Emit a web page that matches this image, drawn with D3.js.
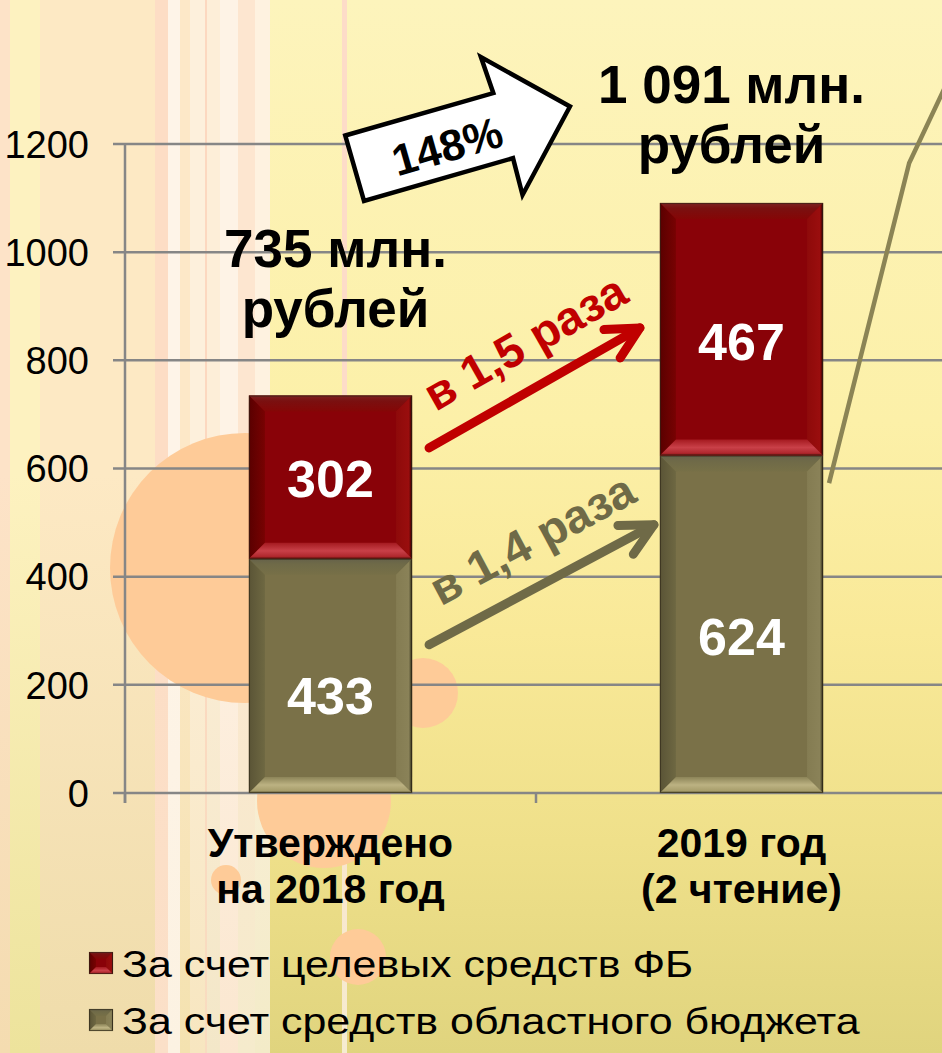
<!DOCTYPE html>
<html>
<head>
<meta charset="utf-8">
<script src="https://cdn.jsdelivr.net/npm/d3@7"></script>
<style>
html, body { margin: 0; padding: 0; overflow: hidden; background: #fdf3b8; }
text { font-family: "Liberation Sans", Arial, sans-serif; }
</style>
</head>
<body>
<svg id="chart" width="942" height="1053"></svg>
<script>
// chart values
var categories = [["Утверждено", "на 2018 год"], ["2019 год", "(2 чтение)"]];
var regionalBudget = [433, 624];   // olive, bottom of the stack
var federalTarget = [302, 467];    // dark red, top of the stack
var seriesNames = ["За счет целевых средств ФБ", "За счет средств областного бюджета"];
var yTicks = [0, 200, 400, 600, 800, 1000, 1200];
// decorative line entering from the right edge: [band position, value]
var sideLine = [[1.713, 573], [1.908, 1165], [1.995, 1305]];

var W = 942, H = 1053;
var svg = d3.select("#chart");
var defs = svg.append("defs");
var ru = d3.formatLocale({decimal: ",", thousands: " ", grouping: [3], currency: ["", ""]});
var fmtInt = ru.format(",d");
var fmtRatio = ru.format(".1f");

var x = d3.scaleBand().domain([0, 1]).range([125, 947]).paddingInner(0.603).paddingOuter(0.3015);
var xPos = d3.scaleLinear().domain([0, 2]).range([125, 947]);
var y = d3.scaleLinear().domain([0, 1200]).range([793, 144]);

function addGrad(id, stops, vertical) {
	var g = defs.append("linearGradient").attr("id", id)
		.attr("x1", 0).attr("y1", 0).attr("x2", vertical ? 0 : 1).attr("y2", vertical ? 1 : 0);
	stops.forEach(function(s) { g.append("stop").attr("offset", s[0]).attr("stop-color", s[1]); });
}

// ---- background ----
addGrad("bg", [[0, "#fdf4bc"], [0.4, "#fcf0a8"], [0.6, "#f9e998"], [0.8, "#efe08a"], [1, "#e0d47e"]], true);
svg.append("rect").attr("width", W).attr("height", H).attr("fill", "url(#bg)");

var stripes = [
	[0, 10, "#fde3c8", "#f4dcb0"], [10, 40, "#fdf2c0", "#ede39c"], [40, 155, "#fde9c4", "#efdcaa"],
	[155, 168, "#fdddc5", "#fbe0c8"], [168, 180, "#fef4e8", "#fcf2e2"], [180, 190, "#fde8c8", "#f4e2b0"],
	[190, 205, "#fdf0dc", "#f7e6c0"], [205, 207, "#fcd8c0", "#f8dcc0"], [207, 220, "#fdeed8", "#f3e7c8"],
	[220, 238, "#fef3e6", "#fbe7d0"], [238, 255, "#fde6d0", "#f5ebcc"], [255, 270, "#fef2e0", "#f3ebc8"],
	[342, 347, "#fddcc8", "#f6ecd0"]
];
stripes.forEach(function(s, i) {
	addGrad("st" + i, [[0, s[2]], [0.45, s[2]], [1, s[3]]], true);
	svg.append("rect").attr("x", s[0]).attr("y", 0).attr("width", s[1] - s[0]).attr("height", H)
		.attr("fill", "url(#st" + i + ")");
});

var blobs = [[245, 568, 135], [423, 693, 35], [324, 801, 67], [226, 880, 15], [358, 957, 28]];
svg.selectAll("circle.blob").data(blobs).enter().append("circle").attr("class", "blob")
	.attr("cx", function(d) { return d[0]; }).attr("cy", function(d) { return d[1]; })
	.attr("r", function(d) { return d[2]; }).attr("fill", "#fecb98");

// ---- grid and axes ----
svg.selectAll("line.grid").data(yTicks).enter().append("line").attr("class", "grid")
	.attr("x1", 113).attr("x2", W).attr("y1", function(d) { return y(d); }).attr("y2", function(d) { return y(d); })
	.attr("stroke", "#868686").attr("stroke-width", 2.5);
svg.append("line").attr("x1", 125).attr("x2", 125).attr("y1", y(1200)).attr("y2", 803)
	.attr("stroke", "#868686").attr("stroke-width", 2.5);
svg.selectAll("line.ctick").data([0, 1]).enter().append("line").attr("class", "ctick")
	.attr("x1", function(d) { return xPos(d); }).attr("x2", function(d) { return xPos(d); })
	.attr("y1", y(0)).attr("y2", 803).attr("stroke", "#868686").attr("stroke-width", 2.5);
svg.selectAll("text.ytick").data(yTicks).enter().append("text").attr("class", "ytick")
	.attr("x", 89).attr("y", function(d) { return y(d); }).attr("dy", "0.36em")
	.attr("text-anchor", "end").attr("font-size", 38).attr("fill", "#000")
	.text(function(d) { return d; });

svg.append("path")
	.attr("d", d3.line().x(function(d) { return xPos(d[0]); }).y(function(d) { return y(d[1]); })(sideLine))
	.attr("fill", "none").attr("stroke", "#8b8455").attr("stroke-width", 4.5);

// ---- bevelled boxes ----
var palettes = {
	red: {face: "#890208", top: [[0, "#7d2222"], [0.35, "#7a1010"], [1, "#850606"]],
		left: [[0, "#5a0000"], [1, "#780202"]], right: [[0, "#8e0a0a"], [0.8, "#9a0e0e"], [1, "#2a0000"]],
		bottom: [[0, "#a51a20"], [0.5, "#c94048"], [0.85, "#b0282e"], [1, "#7a0a0a"]]},
	olive: {face: "#7a7148", top: [[0, "#66624a"], [0.35, "#6f6a48"], [1, "#777047"]],
		left: [[0, "#5a5436"], [1, "#6e6842"]], right: [[0, "#847c52"], [0.8, "#8a8258"], [1, "#2a2815"]],
		bottom: [[0, "#8c8458"], [0.5, "#bcb282"], [0.85, "#a89e6c"], [1, "#6a6440"]]}
};
Object.keys(palettes).forEach(function(k) {
	var p = palettes[k];
	addGrad(k + "-top", p.top, true);
	addGrad(k + "-bottom", p.bottom, true);
	addGrad(k + "-left", p.left, false);
	addGrad(k + "-right", p.right, false);
});

function bevelBox(g, bx, by, w, h, key, b) {
	var box = g.append("g");
	box.append("rect").attr("x", bx).attr("y", by).attr("width", w).attr("height", h).attr("fill", palettes[key].face);
	var poly = function(pts, side) {
		box.append("polygon").attr("points", pts.map(function(p) { return p.join(","); }).join(" "))
			.attr("fill", "url(#" + key + "-" + side + ")");
	};
	poly([[bx, by], [bx + w, by], [bx + w - b, by + b], [bx + b, by + b]], "top");
	poly([[bx, by], [bx + b, by + b], [bx + b, by + h - b], [bx, by + h]], "left");
	poly([[bx + w, by], [bx + w, by + h], [bx + w - b, by + h - b], [bx + w - b, by + b]], "right");
	poly([[bx, by + h], [bx + b, by + h - b], [bx + w - b, by + h - b], [bx + w, by + h]], "bottom");
	box.append("rect").attr("x", bx + 0.5).attr("y", by + 0.5).attr("width", w - 1).attr("height", h - 1)
		.attr("fill", "none").attr("stroke", "#2d2415").attr("stroke-opacity", 0.6).attr("stroke-width", 1.2);
}

// ---- stacked bars ----
var bars = svg.append("g");
var totals = categories.map(function(c, i) { return regionalBudget[i] + federalTarget[i]; });
categories.forEach(function(c, i) {
	var bx = x(i), bw = x.bandwidth();
	bevelBox(bars, bx, y(regionalBudget[i]), bw, y(0) - y(regionalBudget[i]), "olive", 16);
	bevelBox(bars, bx, y(totals[i]), bw, y(regionalBudget[i]) - y(totals[i]), "red", 16);
});

// label nudges below segment middle: [olive, red] per category
var labelShift = [[19, 1], [12, 12]];
var segLabels = [];
categories.forEach(function(c, i) {
	segLabels.push({i: i, v: regionalBudget[i], mid: (y(0) + y(regionalBudget[i])) / 2 + labelShift[i][0]});
	segLabels.push({i: i, v: federalTarget[i], mid: (y(regionalBudget[i]) + y(totals[i])) / 2 + labelShift[i][1]});
});
svg.selectAll("text.seg").data(segLabels).enter().append("text").attr("class", "seg")
	.attr("x", function(d) { return x(d.i) + x.bandwidth() / 2; })
	.attr("y", function(d) { return d.mid; }).attr("dy", "0.36em")
	.attr("text-anchor", "middle").attr("font-size", 52).attr("font-weight", "bold").attr("fill", "#fff")
	.text(function(d) { return fmtInt(d.v); });

// totals above bars
var titleLift = [128, 100], titleDx = [5, -10];
categories.forEach(function(c, i) {
	var t = svg.append("text").attr("text-anchor", "middle").attr("font-size", 53).attr("font-weight", "bold")
		.attr("fill", "#000");
	var cx = x(i) + x.bandwidth() / 2 + titleDx[i], base = y(totals[i]) - titleLift[i];
	t.append("tspan").attr("x", cx).attr("y", base).text(fmtInt(totals[i]) + " млн.");
	t.append("tspan").attr("x", cx).attr("y", base + 60).text("рублей");
});

// category labels
categories.forEach(function(c, i) {
	var t = svg.append("text").attr("text-anchor", "middle").attr("font-size", 41).attr("font-weight", "bold")
		.attr("fill", "#000");
	c.forEach(function(line, j) {
		t.append("tspan").attr("x", x(i) + x.bandwidth() / 2).attr("y", 857 + j * 46).text(line);
	});
});

// ---- growth arrows ----
var growth = [
	{from: 638, to: 860, tipGap: 20, color: "#c00000", ratio: federalTarget[1] / federalTarget[0]},
	{from: 274, to: 496, tipGap: 6, color: "#6f6a47", ratio: regionalBudget[1] / regionalBudget[0]}
];
growth.forEach(function(a) {
	var x0 = x(0) + x.bandwidth() + 17, y0 = y(a.from);
	var x1 = x(1) - a.tipGap, y1 = y(a.to);
	var ang = Math.atan2(y0 - y1, x0 - x1), arm = 36, spread = 27 * Math.PI / 180;
	var g = svg.append("g").attr("stroke", a.color).attr("stroke-width", 9).attr("stroke-linecap", "round")
		.attr("stroke-linejoin", "round").attr("fill", "none");
	g.append("line").attr("x1", x0).attr("y1", y0).attr("x2", x1).attr("y2", y1);
	g.append("polyline").attr("points", [
		[x1 + arm * Math.cos(ang + spread), y1 + arm * Math.sin(ang + spread)],
		[x1, y1],
		[x1 + arm * Math.cos(ang - spread), y1 + arm * Math.sin(ang - spread)]
	].map(function(p) { return p.join(","); }).join(" "));
	var deg = Math.atan2(y1 - y0, x1 - x0) * 180 / Math.PI;
	svg.append("text").attr("transform", "translate(" + ((x0 + x1) / 2 - 9) + "," + ((y0 + y1) / 2 - 45) + ") rotate(" + deg + ")")
		.attr("text-anchor", "middle").attr("dy", "0.33em").attr("font-size", 47).attr("font-weight", "bold")
		.attr("fill", a.color).text("в " + fmtRatio(a.ratio) + " раза");
});

// ---- 148% block arrow ----
var pct = Math.round(totals[1] / totals[0] * 100);
var big = svg.append("g").attr("transform", "translate(457.5,138.7) rotate(-16)");
big.append("polygon")
	.attr("points", [[-107, -34], [47, -34], [45, -72], [117, 0], [47, 72], [48, 34], [-107, 34]]
		.map(function(p) { return p.join(","); }).join(" "))
	.attr("fill", "#fff").attr("stroke", "#000").attr("stroke-width", 4.5).attr("stroke-linejoin", "miter");
big.append("text").attr("x", -12).attr("y", 4).attr("dy", "0.36em").attr("text-anchor", "middle")
	.attr("font-size", 44).attr("font-weight", "bold").attr("fill", "#000").text(pct + "%");

// ---- legend (text is stretched wide in the original) ----
var legend = svg.append("g");
[["red", seriesNames[0]], ["olive", seriesNames[1]]].forEach(function(d, i) {
	bevelBox(legend, 89, 952 + i * 57, 24, 22, d[0], 7);
	legend.append("text").attr("transform", "translate(122," + (977 + i * 57) + ") scale(1.16,1)")
		.attr("font-size", 37).attr("fill", "#000").text(d[1]);
});
</script>
</body>
</html>
